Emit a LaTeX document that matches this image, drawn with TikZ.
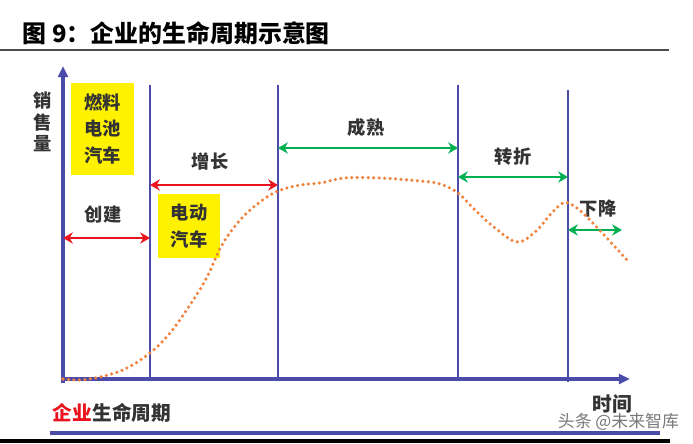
\documentclass[tikz,border=0pt]{standalone}
\usepackage{fontspec}
\setmainfont{Noto Sans CJK SC}
\usetikzlibrary{arrows.meta}

\definecolor{axisblue}{RGB}{75,75,170}
\definecolor{curveorange}{RGB}{240,130,60}
\definecolor{phasered}{RGB}{235,20,30}
\definecolor{phasegreen}{RGB}{0,175,80}
\definecolor{notegray}{RGB}{120,120,120}

\tikzset{
    axisline/.style={line width=2.2pt, axisblue},
    phaseline/.style={line width=2pt, axisblue},
    redarrow/.style={{Stealth[length=7pt,width=8pt]}-{Stealth[length=7pt,width=8pt]}, line width=1.6pt, phasered},
    greenarrow/.style={{Stealth[length=7pt,width=8pt]}-{Stealth[length=7pt,width=8pt]}, line width=1.6pt, phasegreen},
    phaselabel/.style={font=\bfseries\fontsize{13}{15}\selectfont, text=black!80},
    carbox/.style={fill=yellow, inner sep=0pt, align=center, text=black!80, font=\bfseries\fontsize{13}{19}\selectfont}
}

\begin{document}
\begin{tikzpicture}[x=0.025cm, y=-0.025cm]

    \useasboundingbox (0,0) rectangle (693,444);

    % Title
    \node[anchor=west, font=\bfseries\fontsize{17}{20}\selectfont] (title) at (18,33) {图 9：企业的生命周期示意图};
    \draw[line width=1pt, black!70] (0,50) -- (669,50);

    % Axes
    \coordinate (origin) at (63,379);
    \coordinate (ytop) at (63,66);
    \coordinate (xend) at (630,379);
    \draw[axisline, -{Triangle[length=8pt,width=7pt]}] (63,383) -- (ytop);
    \draw[axisline, -{Triangle[length=8pt,width=7pt]}] (origin) -- (xend);

    % Phase lines
    \coordinate (L1t) at (150,85);  \coordinate (L1b) at (150,379);
    \coordinate (L2t) at (278,85);  \coordinate (L2b) at (278,379);
    \coordinate (L3t) at (458,85);  \coordinate (L3b) at (458,379);
    \coordinate (L4t) at (568,90);  \coordinate (L4b) at (568,382);
    \draw[phaseline] (L1t) -- (L1b);
    \draw[phaseline] (L2t) -- (L2b);
    \draw[phaseline] (L3t) -- (L3b);
    \draw[phaseline] (L4t) -- (L4b);

    % Axis labels
    \node[phaselabel, align=center, font=\bfseries\fontsize{13}{15.5}\selectfont] (sales) at (43,122) {销\\售\\量};
    \node[anchor=west, text=black!80, font=\bfseries\fontsize{14}{16}\selectfont] (lifecycle) at (48,413) {\textcolor{phasered}{企业}生命周期};
    \node[phaselabel, font=\bfseries\fontsize{14}{16}\selectfont] (time) at (612,404) {时间};

    % Yellow boxes
    \node[carbox, minimum width=1.575cm, minimum height=2.3cm] (fuelcar) at (102.5,129) {燃料\\电池\\汽车};
    \node[carbox, minimum width=1.55cm, minimum height=1.6cm] (elecar) at (189,226) {电动\\汽车};

    % Phases
    \node[phaselabel] (create) at (103,215) {创建};
    \coordinate (createA) at (63,238);  \coordinate (createB) at (150,238);
    \draw[redarrow] (createA) -- (createB);

    \node[phaselabel] (grow) at (210,162) {增长};
    \coordinate (growA) at (150,185);  \coordinate (growB) at (278,185);
    \draw[redarrow] (growA) -- (growB);

    \node[phaselabel] (mature) at (366,128) {成熟};
    \coordinate (matureA) at (278,148);  \coordinate (matureB) at (458,148);
    \draw[greenarrow] (matureA) -- (matureB);

    \node[phaselabel] (turn) at (513,157) {转折};
    \coordinate (turnA) at (458,177);  \coordinate (turnB) at (568,177);
    \draw[greenarrow] (turnA) -- (turnB);

    \node[phaselabel] (decline) at (598,209) {下降};
    \coordinate (declineA) at (568,230);  \coordinate (declineB) at (622,230);
    \draw[greenarrow] (declineA) -- (declineB);

    % Sales curve
    \draw[curveorange, line width=2.5pt, line cap=round, dash pattern=on 0pt off 3.9pt]
        plot[smooth, tension=0.6] coordinates {(63,379) (80,380) (100,377) (125,369) (150,353)
        (170,333) (190,305) (207,277) (222,245) (240,220) (260,202) (278,191) (300,185)
        (320,183) (345,178) (380,178) (420,181) (440,184) (458,193) (475,210) (495,228)
        (517,242) (535,232) (550,215) (563,203) (574,206) (588,218) (605,236) (627,260)};

    % Bottom rules
    \draw[line width=2.2pt, axisblue] (50,433) -- (660,433);
    \draw[line width=2.2pt, black] (0,441) -- (670,441);

    % Watermark
    \node[anchor=west, text=notegray, font=\fontsize{12}{14}\selectfont] (mark) at (553,422) {头条 @未来智库};

\end{tikzpicture}
\end{document}
